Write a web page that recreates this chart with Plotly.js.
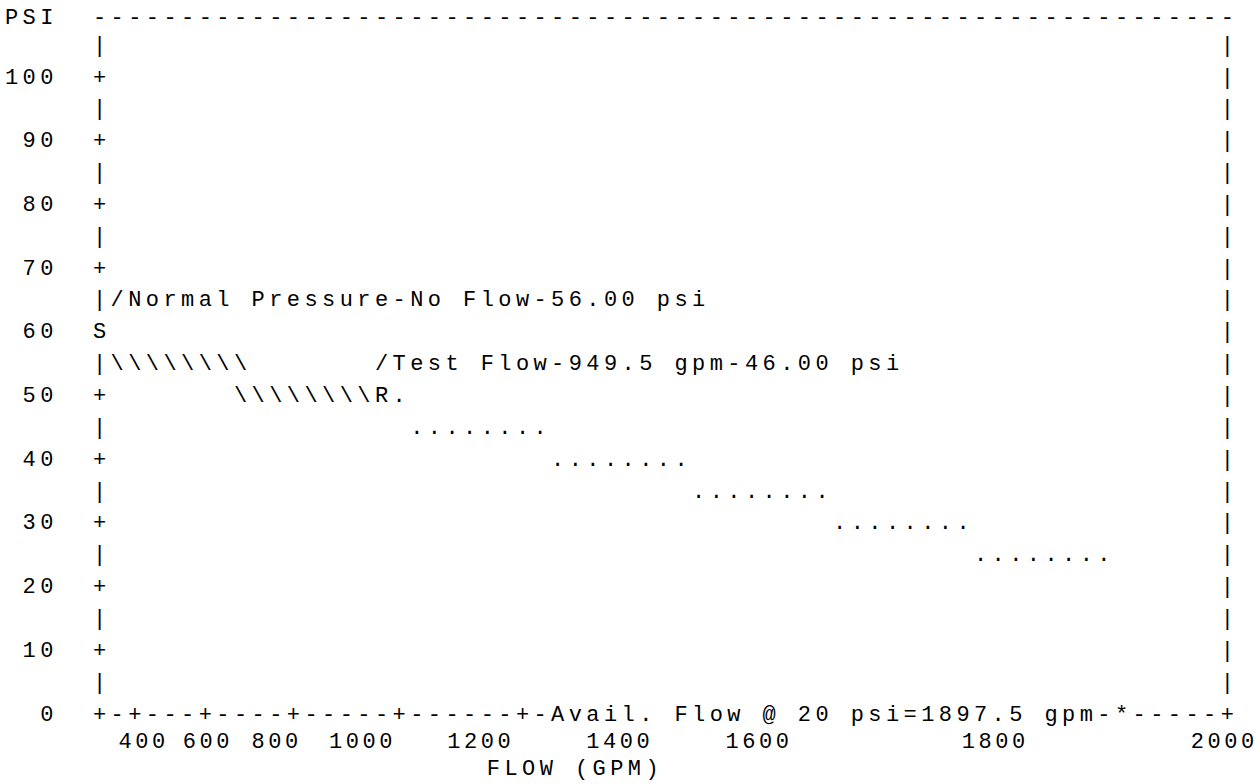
<!DOCTYPE html>
<html>
<head>
<meta charset="utf-8">
<script src="https://cdn.plot.ly/plotly-3.0.1.min.js"></script>
<style>html,body{margin:0;padding:0;background:#fff;}</style>
</head>
<body>
<div id="chart" style="width:1260px;height:784px;"></div>
<script>
// ---- chart values ----
const yTickLabels = [100, 90, 80, 70, 60, 50, 40, 30, 20, 10, 0];
const xTickLabels = ['400', '600', '800', '1000', '1200', '1400', '1600', '1800', '2000'];
const staticPressure = [56.00];          // psi, no flow
const testFlow = [949.5];                // gpm
const residualPressure = [46.00];        // psi at test flow
const availPressure = [20];              // psi
const availFlow = [1897.5];              // gpm at 20 psi
const staticRow = [60];                  // psi row where "S" is printed
const residualRow = [50];                // psi row where "R." is printed
const slopeRows = [55, 50];              // psi rows of the "\" segment
const dotRows = [45, 40, 35, 30, 25];    // psi rows of the "." extension
const yAxisName = 'PSI';
const xAxisName = 'FLOW (GPM)';

// ---- layout of the character grid (columns / rows) ----
const LEFT = 5, RIGHT = 69, SEG = 8;
const topRowY = 109.3, labelRowY = -4.3, titleRowY = -8.5;
const xLabelCols = [6.45, 10.1, 14.0, 18.4, 25.1, 33.0, 40.9, 54.3, 67.3];
const xLabelStep = 0.95;
const xTitleCol = 27.35;

const xs = [], ys = [], ts = [];
function put(col, row, str, step) {
  const d = step || 1;
  for (let i = 0; i < str.length; i++) {
    const ch = str[i];
    if (ch === ' ') continue;
    xs.push(col + i * d); ys.push(row); ts.push(ch);
  }
}

// top line
put(0, topRowY, yAxisName);
put(LEFT, topRowY, '-'.repeat(RIGHT - LEFT + 1));

// left / right frame
const noteRow = staticRow[0] + 5;
for (let psi = 105; psi >= 5; psi -= 5) {
  if (psi !== noteRow && psi !== staticRow[0]) put(LEFT, psi, psi % 10 === 0 ? '+' : '|');
  put(RIGHT, psi, '|');
}
// y tick labels (right aligned, 3 chars)
yTickLabels.forEach(v => put(0, v, String(v).padStart(3, ' ')));

// static pressure note and mark
put(LEFT, noteRow, '|/Normal Pressure-No Flow-' + staticPressure[0].toFixed(2) + ' psi');
put(LEFT, staticRow[0], 'S');

// drop line "\" segments
slopeRows.forEach((r, i) => put(LEFT + 1 + i * (SEG - 1), r, '\\'.repeat(SEG)));

// residual mark and test note
const rCol = LEFT + 1 + (slopeRows.length - 1) * (SEG - 1) + SEG;
put(rCol, residualRow[0], 'R.');
put(rCol, residualRow[0] + 5, '/Test Flow-' + testFlow[0].toFixed(1) + ' gpm-' +
    residualPressure[0].toFixed(2) + ' psi');

// dotted extension
dotRows.forEach((r, i) => put(rCol + 2 + i * SEG, r, '.'.repeat(SEG)));

// x axis line with ticks and available flow note
put(LEFT, 0, '+-+---+----+-----+------+-Avail. Flow @ ' + availPressure[0] + ' psi=' +
    availFlow[0].toFixed(1) + ' gpm-*-----+');

// x tick labels and title
xTickLabels.forEach((s, i) => put(xLabelCols[i], labelRowY, s, xLabelStep));
put(xTitleCol, titleRowY, xAxisName);

const trace = {
  type: 'scatter', mode: 'text',
  x: xs, y: ys, text: ts,
  textposition: 'middle center',
  textfont: {family: 'Liberation Mono, monospace', size: 22, color: '#000000'},
  hoverinfo: 'skip', cliponaxis: false, showlegend: false
};

// column c is centred at 11.5 + 17.62*c px; psi p at 715 - 6.37*p px
const layout = {
  width: 1260, height: 784,
  margin: {l: 0, r: 0, t: 0, b: 0, pad: 0},
  paper_bgcolor: '#ffffff', plot_bgcolor: '#ffffff',
  xaxis: {range: [-11.5 / 17.62, (1260 - 11.5) / 17.62], visible: false, fixedrange: true},
  yaxis: {range: [-(784 - 715) / 6.37, 715 / 6.37], visible: false, fixedrange: true},
  showlegend: false
};

Plotly.newPlot('chart', [trace], layout, {staticPlot: true, displayModeBar: false});
</script>
</body>
</html>
